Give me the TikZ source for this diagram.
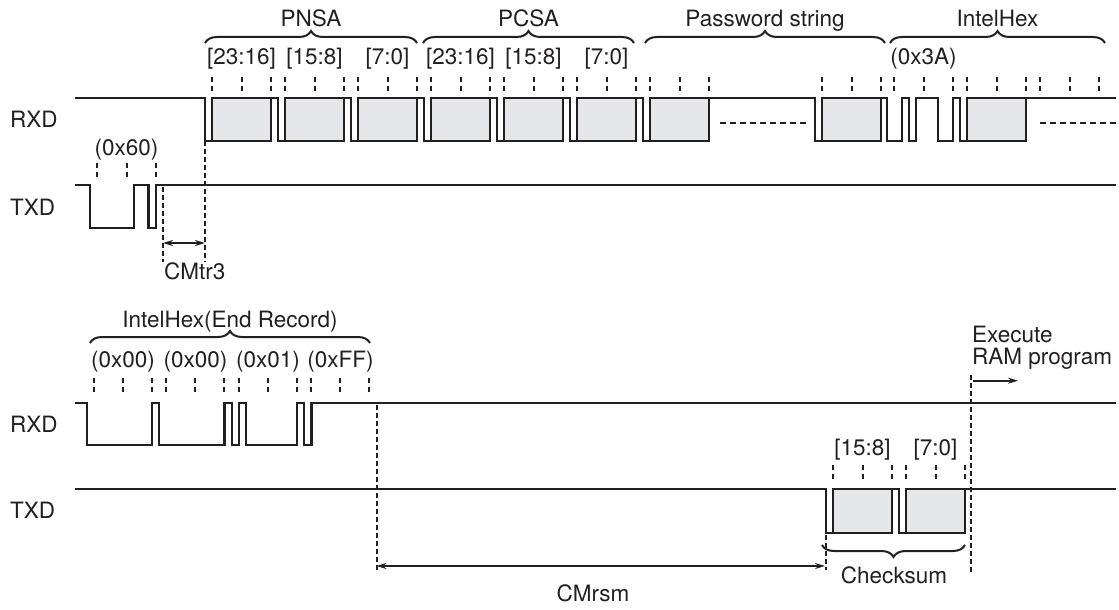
\documentclass[tikz,border=0pt]{standalone}
\usepackage{fontspec}
\setmainfont{TeX Gyre Heros}
\usetikzlibrary{arrows.meta,decorations.pathreplacing}
\definecolor{ink}{HTML}{231F20}
\definecolor{boxgray}{HTML}{E6E7E8}
\begin{document}
\begin{tikzpicture}[x=1pt,y=-1pt,
  font=\fontsize{22.5}{24}\selectfont,
  wave/.style={line width=2.2pt,draw=ink,line join=miter},
  bytebox/.style={line width=2.2pt,draw=ink,fill=boxgray},
  tick/.style={line width=2pt,draw=ink,dash pattern=on 5pt off 4pt},
  guide/.style={line width=2pt,draw=ink,dash pattern=on 4.5pt off 3.5pt},
  dots/.style={line width=2pt,draw=ink,dash pattern=on 6pt off 4pt},
  brc/.style={decorate,decoration={brace,amplitude=12pt},line width=2pt,draw=ink},
  lbl/.style={anchor=base,inner sep=0pt,text=ink},
  sig/.style={anchor=base west,inner sep=0pt,text=ink},
  dimarrow/.style={line width=1.8pt,draw=ink,{Stealth[length=10pt,width=6pt]}-{Stealth[length=10pt,width=6pt]}},
  onearrow/.style={line width=1.8pt,draw=ink,-{Stealth[length=10pt,width=6pt]}}]
\useasboundingbox (0,0) rectangle (1119,610);

% ---------------- top : RXD ----------------
\node[sig] (rxd1) at (10,127) {RXD};
\draw[wave] (75,98) -- (205,98) -- (205,141) -- (270.7,141) -- (270.7,98)
  -- (278,98) -- (278,141) -- (343.7,141) -- (343.7,98)
  -- (351,98) -- (351,141) -- (416.7,141) -- (416.7,98)
  -- (424,98) -- (424,141) -- (489.7,141) -- (489.7,98)
  -- (497,98) -- (497,141) -- (562.7,141) -- (562.7,98)
  -- (570,98) -- (570,141) -- (635.7,141) -- (635.7,98)
  -- (643,98) -- (643,141) -- (708.7,141) -- (708.7,98)
  -- (815,98) -- (815,141) -- (880.7,141) -- (880.7,98)
  -- (887,98) -- (887,141) -- (901.6,141) -- (901.6,98)
  -- (908.9,98) -- (908.9,141) -- (916.2,141) -- (916.2,98)
  -- (938.1,98) -- (938.1,141) -- (952.7,141) -- (952.7,98)
  -- (960,98) -- (960,141) -- (1025.7,141) -- (1025.7,98) -- (1116,98);
\foreach \f in {205,278,351,424,497,570,643,815,960}
  \draw[bytebox] (\f+7.3,98) rectangle (\f+65.7,141);
\foreach \f in {205,278,351,424,497,570,643,815,887,960,1033}
  \foreach \d in {7.3,36.5,65.7}
    \draw[tick] (\f+\d,77) -- (\f+\d,92);
\draw[dots] (720,123) -- (808,123);
\draw[dots] (1040,123) -- (1116,123);

% byte labels
\node[lbl] (b1) at (241.5,65) {[23:16]};
\node[lbl] (b2) at (314.5,65) {[15:8]};
\node[lbl] (b3) at (387.5,65) {[7:0]};
\node[lbl] (b4) at (460.5,65) {[23:16]};
\node[lbl] (b5) at (533.5,65) {[15:8]};
\node[lbl] (b6) at (606.5,65) {[7:0]};
\node[lbl] (b7) at (923.5,65) {(0x3A)};

% braces
\draw[brc] (205,43) -- (417,43);
\node[lbl] (pnsa) at (311,27) {PNSA};
\draw[brc] (423,43) -- (634,43);
\node[lbl] (pcsa) at (528.5,27) {PCSA};
\draw[brc] (645,43) -- (885,43);
\node[lbl] (pwd) at (765,27) {Password string};
\draw[brc] (890,43) -- (1105,43);
\node[lbl] (ihex) at (997.5,27) {IntelHex};

% ---------------- top : TXD ----------------
\node[sig] (txd1) at (10,215) {TXD};
\draw[wave] (75,185) -- (90,185) -- (90,228) -- (133.8,228) -- (133.8,185)
  -- (148.4,185) -- (148.4,228) -- (155.7,228) -- (155.7,185) -- (1116,185);
\foreach \d in {97.3,126.5,155.7}
  \draw[tick] (\d,163) -- (\d,178);
\node[lbl] (x60) at (126.5,155) {(0x60)};

% CMtr3
\coordinate (t3a) at (163,187);
\coordinate (t3b) at (205,141);
\draw[guide] (t3a) -- (163,262);
\draw[guide] (t3b) -- (205,262);
\coordinate (t3l) at (163,243);
\coordinate (t3r) at (205,243);
\draw[dimarrow] (t3l) -- (t3r);
\node[anchor=base west,inner sep=0pt,text=ink] (cmtr3) at (164,279) {CMtr3};

% ---------------- bottom : RXD ----------------
\node[sig] (rxd2) at (10,432) {RXD};
\draw[wave] (75,403) -- (86.7,403) -- (86.7,445) -- (151.95,445) -- (151.95,403)
  -- (159.2,403) -- (159.2,445) -- (224.45,445) -- (224.45,403)
  -- (231.7,403) -- (231.7,445) -- (238.95,445) -- (238.95,403)
  -- (246.2,403) -- (246.2,445) -- (296.95,445) -- (296.95,403)
  -- (304.2,403) -- (304.2,445) -- (311.45,445) -- (311.45,403) -- (1116,403);
\foreach \f in {86.7,159.2,231.7,304.2}
  \foreach \d in {7.25,36.25,65.25}
    \draw[tick] (\f+\d,378) -- (\f+\d,392);
\node[lbl] (e1) at (122.95,367) {(0x00)};
\node[lbl] (e2) at (195.45,367) {(0x00)};
\node[lbl] (e3) at (267.95,367) {(0x01)};
\node[lbl] (e4) at (340.45,367) {(0xFF)};
\draw[brc] (90,343) -- (370,343);
\node[lbl] (endrec) at (230,327) {IntelHex(End Record)};

% ---------------- bottom : TXD ----------------
\node[sig] (txd2) at (10,518) {TXD};
\draw[wave] (75,489) -- (826,489) -- (826,533) -- (891.7,533) -- (891.7,489)
  -- (899,489) -- (899,533) -- (964.7,533) -- (964.7,489) -- (1116,489);
\foreach \f in {826,899}
  \draw[bytebox] (\f+7.3,489) rectangle (\f+65.7,533);
\foreach \f in {826,899}
  \foreach \d in {7.3,36.5,65.7}
    \draw[tick] (\f+\d,465) -- (\f+\d,480);
\node[lbl] (c1) at (862.5,455) {[15:8]};
\node[lbl] (c2) at (935.5,455) {[7:0]};
\draw[brc] (965,545) -- (822,545);
\node[lbl] (chk) at (894,583) {Checksum};

% CMrsm
\coordinate (rsa) at (376.5,405);
\coordinate (rsb) at (826,535);
\draw[guide] (rsa) -- (376.5,570);
\draw[guide] (rsb) -- (826,570);
\coordinate (rsl) at (376.5,566);
\coordinate (rsr) at (825,566);
\draw[dimarrow] (rsl) -- (rsr);
\node[lbl] (cmrsm) at (593,601) {CMrsm};

% Execute RAM program
\coordinate (exa) at (971,375);
\draw[guide] (exa) -- (971,572);
\coordinate (exl) at (973,380.7);
\coordinate (exr) at (1018,380.7);
\draw[onearrow] (exl) -- (exr);
\node[sig] (exe1) at (972,342) {Execute};
\node[sig] (exe2) at (972,364) {RAM program};
\end{tikzpicture}
\end{document}
